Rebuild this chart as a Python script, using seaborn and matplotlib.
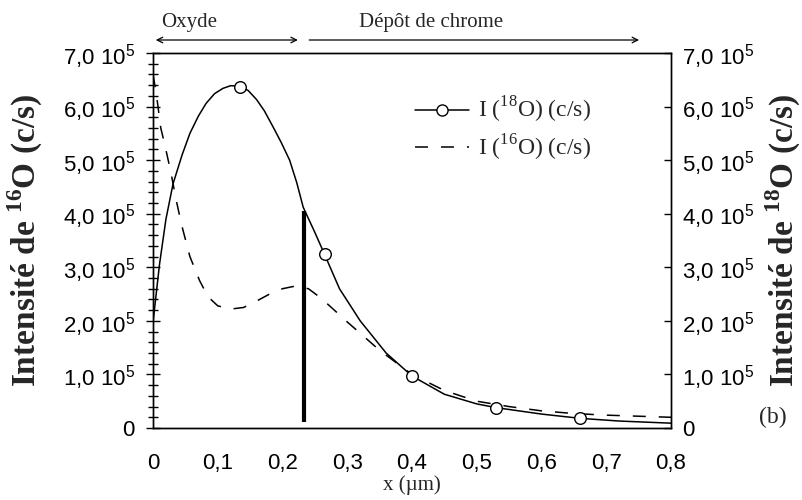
import numpy as np
import matplotlib
matplotlib.use('Agg')
import matplotlib.pyplot as plt
import matplotlib.ticker as ticker
import seaborn as sns
import pandas as pd

# depth (um) and intensities (units of 1e5 c/s)
x_18 = [0.0, 0.01, 0.02, 0.031, 0.045, 0.057, 0.07, 0.082, 0.095, 0.108, 0.12,
        0.134, 0.147, 0.16, 0.172, 0.185, 0.198, 0.211, 0.222, 0.232, 0.25,
        0.265, 0.288, 0.32, 0.36, 0.40, 0.45, 0.50, 0.53, 0.60, 0.66, 0.72,
        0.80]
i_18 = [1.97, 3.05, 3.9, 4.56, 5.1, 5.5, 5.82, 6.06, 6.24, 6.34, 6.39,
        6.38, 6.3, 6.13, 5.92, 5.63, 5.33, 5.0, 4.58, 4.12, 3.65,
        3.24, 2.6, 2.0, 1.4, 0.97, 0.63, 0.45, 0.38, 0.26, 0.18, 0.13,
        0.09]
x_marks = [0.134, 0.265, 0.40, 0.53, 0.66]
i_marks = [6.36, 3.24, 0.97, 0.38, 0.18]

x_16 = [0.0, 0.005, 0.012, 0.018, 0.028, 0.035, 0.044, 0.057, 0.072, 0.085,
        0.10, 0.12, 0.14, 0.16, 0.18, 0.20, 0.22, 0.24, 0.26, 0.28, 0.30,
        0.35, 0.40, 0.45, 0.50, 0.55, 0.60, 0.65, 0.70, 0.75, 0.80]
i_16 = [6.6, 6.25, 5.6, 5.3, 4.75, 4.3, 3.8, 3.2, 2.75, 2.45,
        2.28, 2.22, 2.25, 2.37, 2.5, 2.6, 2.65, 2.6, 2.42, 2.2, 1.98,
        1.45, 1.0, 0.7, 0.5, 0.4, 0.32, 0.27, 0.24, 0.22, 0.2]

# interface oxyde / chrome
x_interface = 0.233
interface_span = [0.12, 4.05]

y_ticks = [0, 1, 2, 3, 4, 5, 6, 7]
x_ticks = [0, 0.1, 0.2, 0.3, 0.4, 0.5, 0.6, 0.7, 0.8]

df18 = pd.DataFrame({'x': x_18, 'I': i_18})
df16 = pd.DataFrame({'x': x_16, 'I': i_16})
dfm = pd.DataFrame({'x': x_marks, 'I': i_marks})

sns.set_style('white')
plt.rcParams['font.family'] = ['Liberation Serif', 'DejaVu Serif']
plt.rcParams['mathtext.fontset'] = 'custom'
plt.rcParams['mathtext.rm'] = 'Liberation Serif'
plt.rcParams['mathtext.bf'] = 'Liberation Serif:bold'
plt.rcParams['mathtext.sf'] = 'Liberation Sans'
sans = ['Liberation Sans', 'DejaVu Sans']
DASH = [8.5, 8.5]

fig = plt.figure(figsize=(8.03, 5.0), dpi=100)
ax = fig.add_axes([153 / 803, 1 - 428 / 500, 518 / 803, 375 / 500])
ax2 = ax.twinx()

sns.lineplot(data=df16, x='x', y='I', ax=ax, color='black', lw=1.1, legend=False)
ax.lines[-1].set_dashes(DASH)
sns.lineplot(data=df18, x='x', y='I', ax=ax2, color='black', lw=1.1, legend=False)
sns.scatterplot(data=dfm, x='x', y='I', ax=ax2, marker='o', s=70,
                facecolor='white', edgecolor='black', linewidth=1.0,
                legend=False, zorder=3)
ax2.vlines(x_interface, interface_span[0], interface_span[1], color='black', lw=3)

for a in (ax, ax2):
    a.set_xlim(0, 0.8)
    a.set_ylim(0, 7)
    a.set_xlabel('')
    a.set_ylabel('')
    for s in a.spines.values():
        s.set_color('black')
        s.set_linewidth(1.0)


def yfmt(v, pos):
    if abs(v) < 1e-9:
        return '0'
    return ('%.1f' % v).replace('.', ',') + r' 10$^{\mathsf{5}}$'


def xfmt(v, pos):
    if abs(v) < 1e-9:
        return '0'
    return ('%.1f' % v).replace('.', ',')


ax.set_yticks(y_ticks)
ax.yaxis.set_minor_locator(ticker.MultipleLocator(0.2))
ax.yaxis.set_major_formatter(ticker.FuncFormatter(yfmt))
ax.set_xticks(x_ticks)
ax.xaxis.set_minor_locator(ticker.MultipleLocator(0.02))
ax.xaxis.set_major_formatter(ticker.FuncFormatter(xfmt))
ax.tick_params(axis='both', which='major', direction='inout', length=10,
               width=1.0, colors='black', labelsize=16)
ax.tick_params(axis='both', which='minor', direction='inout', length=6.5,
               width=1.0, colors='black')
ax.tick_params(axis='y', which='major', pad=8)
ax.tick_params(axis='x', which='major', pad=13)
ax.tick_params(axis='x', which='both', top=False)
ax.tick_params(axis='y', which='both', right=False)
for lab in ax.get_xticklabels() + ax.get_yticklabels():
    lab.set_family(sans)

ax2.set_yticks(y_ticks)
ax2.yaxis.set_major_formatter(ticker.FuncFormatter(yfmt))
ax2.tick_params(axis='y', which='major', direction='in', length=5, width=1.0,
                colors='black', labelsize=16, pad=8)
for lab in ax2.get_yticklabels():
    lab.set_family(sans)

ax.set_xlabel('x (µm)', fontsize=15)
ax.xaxis.set_label_coords(0.5, -(485 - 428) / 375)
ax.xaxis.label.set_va('center')
ax.set_ylabel(r'Intensité de $^{\mathbf{16}}$O (c/s)', fontsize=24,
              fontweight='bold')
ax2.set_ylabel(r'Intensité de $^{\mathbf{18}}$O (c/s)', fontsize=24,
               fontweight='bold')
ax.yaxis.set_label_coords(-(153 - 25) / 518, 0.5)
ax.yaxis.label.set_va('center')
ax2.yaxis.set_label_coords((783 - 153) / 518, 0.5)
ax2.yaxis.label.set_va('center')

# legend
h18, = ax2.plot([], [], color='black', lw=1.1, marker='o', mfc='white',
                mec='black', ms=8)
h16, = ax2.plot([], [], color='black', lw=1.1, dashes=DASH)
ax2.legend([h18, h16], [r'I ($^{18}$O) (c/s)', r'I ($^{16}$O) (c/s)'],
           loc='upper left', bbox_to_anchor=((415 - 153) / 518, 1 - 42 / 375),
           frameon=False, fontsize=17, borderpad=0, borderaxespad=0,
           handlelength=2.3, handletextpad=0.35, labelspacing=0.3)

# region annotations above the frame
ya = 7 + 13 / 53.6
yt = 7 + 31 / 53.6
ax.annotate('', xy=(0.0, ya), xytext=(x_interface - 0.005, ya),
            arrowprops=dict(arrowstyle='<->', color='black', lw=0.9),
            annotation_clip=False)
ax.annotate('', xy=(x_interface + 0.004, ya), xytext=(0.755, ya),
            arrowprops=dict(arrowstyle='<-', color='black', lw=0.9),
            annotation_clip=False)
ax.text(0.056, yt, 'Oxyde', fontsize=15, ha='center', va='center')
ax.text(0.43, yt, 'Dépôt de chrome', fontsize=15, ha='center', va='center')

fig.text(773 / 803, 1 - 417 / 500, '(b)', fontsize=17, ha='center', va='center')

fig.savefig('out.png', dpi=100)
